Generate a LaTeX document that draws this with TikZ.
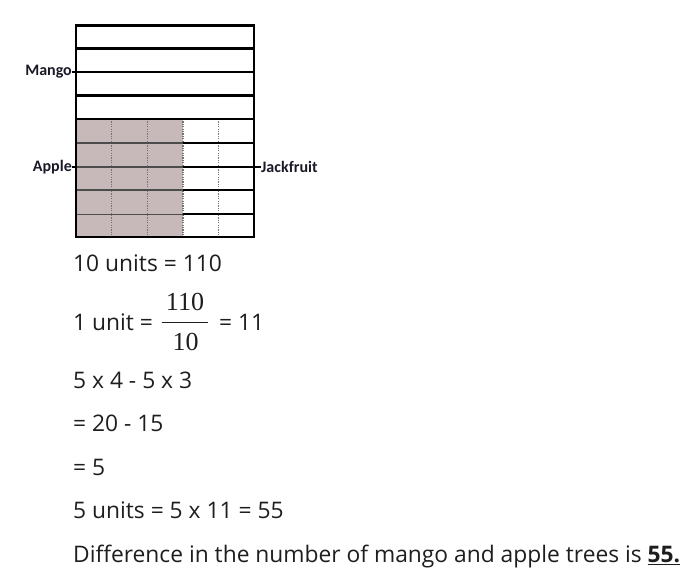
\documentclass[tikz,border=0pt]{standalone}
\usepackage{fontspec}
\setmainfont{Open Sans}
\newfontfamily\lblfont{Carlito}
\newfontfamily\fracfont{Liberation Serif}
\definecolor{appleshade}{RGB}{199,184,186}
\definecolor{txt}{RGB}{30,30,30}
\definecolor{lbl}{RGB}{25,25,40}
\tikzset{
  boxline/.style={line width=2.3pt, black},
  shadeline/.style={line width=1.6pt, black!70},
  dotline/.style={line width=1.1pt, black!55, dash pattern=on 1.2pt off 1.2pt},
  lbltext/.style={font=\lblfont\bfseries\fontsize{16}{18}\selectfont, text=lbl, inner sep=0pt},
  bodytext/.style={font=\fontsize{22.8}{27}\selectfont, text=txt, anchor=base west, inner sep=0pt},
  fractext/.style={font=\fracfont\fontsize{26}{30}\selectfont, text=txt, anchor=base, inner sep=0pt},
  stub/.style={line width=1.6pt, black}
}
\begin{document}
\begin{tikzpicture}[x=1pt,y=-1pt]
\useasboundingbox (0,0) rectangle (697,578);
% shaded area
\fill[appleshade] (76,119) rectangle (183,236.7);
% dotted verticals
\foreach \x in {111.6,147.2,183,218.6}
  \draw[dotline] (\x,119) -- (\x,236.7);
% mango rows
\foreach \y in {48.5,72,95.5,119}
  \draw[boxline] (76,\y) -- (254,\y);
% bottom rows
\foreach \y in {143,166.7,190,214.3} {
  \draw[shadeline] (76,\y) -- (183,\y);
  \draw[boxline] (183,\y) -- (254,\y);
}
% outer box
\draw[boxline] (76,25.5) rectangle (254,236.7);
% labels
\node[lbltext, anchor=east] (mango) at (72,72) {Mango};
\node[lbltext, anchor=east] (apple) at (72,166.7) {Apple};
\node[lbltext, anchor=west] (jack) at (261,166.7) {Jackfruit};
\coordinate (mangoEnd) at (76,72);
\coordinate (appleEnd) at (76,166.7);
\coordinate (jackEnd) at (254,166.7);
\draw[stub] (mango.east) -- (mangoEnd);
\draw[stub] (apple.east) -- (appleEnd);
\draw[stub] (jack.west) -- (jackEnd);
% text lines
\node[bodytext] (l1) at (73,271.7) {10 units = 110};
\node[bodytext] (l2) at (73,330) {1 unit =};
\node[fractext] (num) at (185,310.7) {110};
\node[fractext] (den) at (185.5,350) {10};
\draw[line width=1pt, txt] (161.7,322.7) -- (208.3,322.7);
\node[bodytext] (l2b) at (219,330) {= 11};
\node[bodytext] (l3) at (73,388.3) {5 x 4 - 5 x 3};
\node[bodytext] (l4) at (73,431.7) {= 20 - 15};
\node[bodytext] (l5) at (73,475) {= 5};
\node[bodytext] (l6) at (73,518.3) {5 units = 5 x 11 = 55};
\node[bodytext] (l7) at (73,562) {Difference in the number of mango and apple trees is \textbf{\underline{55.}}};
\end{tikzpicture}
\end{document}
